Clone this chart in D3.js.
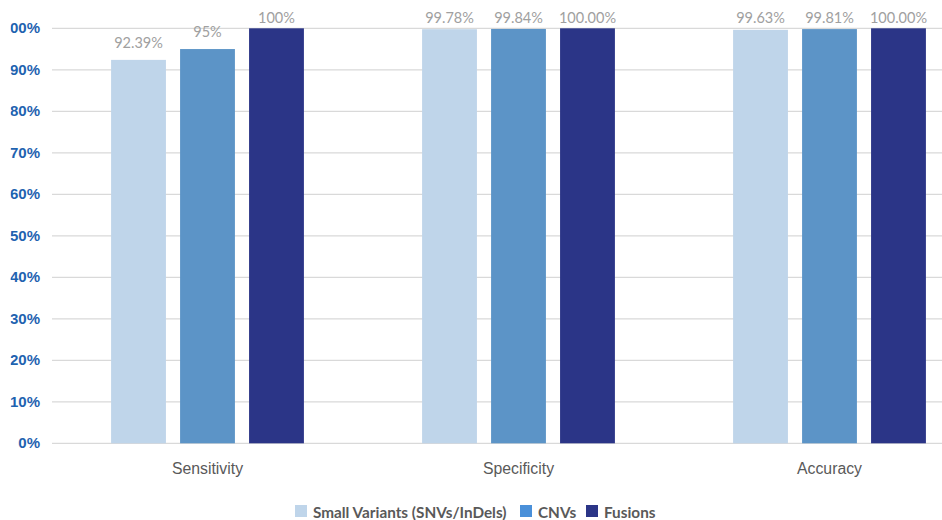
<!DOCTYPE html>
<html><head><meta charset="utf-8">
<script src="https://cdn.jsdelivr.net/npm/d3@7"></script>
<style>
html,body{margin:0;padding:0;background:#fff;}
svg{display:block;font-family:"Lato","Open Sans",sans-serif;}
</style></head>
<body>
<svg id="chart" width="942" height="520"></svg>
<script>
const categories = ["Sensitivity", "Specificity", "Accuracy"];
const seriesNames = ["Small Variants (SNVs/InDels)", "CNVs", "Fusions"];
const smallVariants = [92.39, 99.78, 99.63];
const cnvs = [95, 99.84, 99.81];
const fusions = [100, 100, 100];
const valueLabels = [
  ["92.39%", "99.78%", "99.63%"],
  ["95%", "99.84%", "99.81%"],
  ["100%", "100.00%", "100.00%"]
];
const yTicks = [0, 10, 20, 30, 40, 50, 60, 70, 80, 90, 100];
const barColors = ["#bfd5ea", "#5c94c7", "#2b3587"];
const legendColors = ["#bfd5ea", "#4a90d9", "#2b3587"];

const series = [smallVariants, cnvs, fusions];
const svg = d3.select("#chart");

const x0 = d3.scaleBand().domain(categories).range([52, 985]).paddingInner(0.38).paddingOuter(0.19);
const x1 = d3.scaleBand().domain(d3.range(series.length)).range([0, x0.bandwidth()]).paddingInner(0.205);
const y = d3.scaleLinear().domain([0, 100]).range([443.3, 28.3]);

// gridlines
svg.append("g").selectAll("line").data(yTicks).join("line")
  .attr("x1", 52).attr("x2", 985)
  .attr("y1", d => y(d)).attr("y2", d => y(d))
  .attr("stroke", "#d9d9d9").attr("stroke-width", 1.3);

// clip left edge as in reference
svg.append("clipPath").attr("id", "lc").append("rect").attr("x", 10.5).attr("y", 0).attr("width", 935).attr("height", 520);

// y axis labels
const yAxis = d3.axisLeft(y).tickValues(yTicks).tickFormat(d => d + "%").tickSize(0).tickPadding(0);
const ywrap = svg.append("g").attr("clip-path", "url(#lc)");
const ya = ywrap.append("g").attr("transform", "translate(40,0)").call(yAxis);
ya.select(".domain").remove();
ya.selectAll("text").attr("fill", "#1f63b0").attr("font-size", 15).attr("font-weight", "bold")
  .attr("dy", "0.3em");

// bars
const groups = svg.append("g").selectAll("g").data(categories).join("g")
  .attr("transform", d => `translate(${x0(d)},0)`);
groups.each(function(cat, ci) {
  const g = d3.select(this);
  series.forEach((s, si) => {
    g.append("rect")
      .attr("x", x1(si)).attr("width", x1.bandwidth())
      .attr("y", y(s[ci])).attr("height", y(0) - y(s[ci]))
      .attr("fill", barColors[si]);
    g.append("text")
      .attr("x", x1(si) + x1.bandwidth() / 2)
      .attr("y", Math.max(23, y(s[ci]) - 12))
      .attr("text-anchor", "middle")
      .attr("font-size", 14.5).attr("fill", "#a0a0a0")
      .text(valueLabels[si][ci]);
  });
});

// x axis labels
const xAxis = d3.axisBottom(x0).tickSize(0).tickPadding(0);
const xa = svg.append("g").attr("transform", "translate(0,474)").call(xAxis);
xa.select(".domain").remove();
xa.selectAll("text").attr("fill", "#595959").attr("font-size", 15.8).attr("dy", 0);

// legend
const legendX = [295, 520, 586];
const lg = svg.append("g").selectAll("g").data(seriesNames).join("g")
  .attr("transform", (d, i) => `translate(${legendX[i]},505)`);
lg.append("rect").attr("width", 12).attr("height", 12).attr("fill", (d, i) => legendColors[i]);
lg.append("text").attr("x", 18).attr("y", 12.5).attr("font-size", 15.3).attr("font-weight", "bold")
  .attr("fill", "#595959").text(d => d);
</script>
</body></html>
